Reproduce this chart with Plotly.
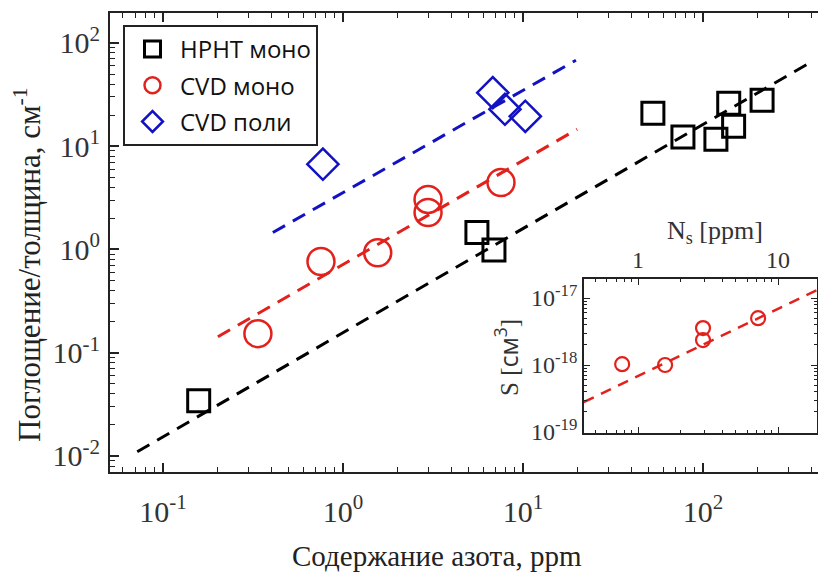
import plotly.graph_objects as go

# ---------------- data ----------------
hpht_x = [0.158, 5.55, 6.9, 52.7, 77.4, 118, 139, 148, 213]
hpht_y = [0.0343, 1.46, 0.99, 20.9, 12.3, 11.7, 26.1, 15.6, 27.9]

cvdm_x = [0.337, 0.755, 1.56, 2.97, 2.97, 7.55]
cvdm_y = [0.153, 0.765, 0.93, 3.05, 2.28, 4.45]

cvdp_x = [0.774, 6.8, 7.94, 10.3]
cvdp_y = [6.7, 33, 22.8, 19.5]

fit_hpht_x = [0.072, 390]
fit_hpht_y = [0.011, 64]
fit_cvdm_x = [0.202, 20]
fit_cvdm_y = [0.143, 14.6]
fit_cvdp_x = [0.408, 19.7]
fit_cvdp_y = [1.46, 68]

inset_ns = [0.77, 1.56, 2.91, 2.91, 7.2]
inset_s = [1.03e-18, 1.0e-18, 3.56e-18, 2.36e-18, 5.0e-18]
inset_fit_x = [0.41, 19.0]
inset_fit_y = [2.8e-19, 1.32e-17]

main_xticks = [0.1, 1, 10, 100, 1000]
main_xticktext = ["10<sup>-1</sup>", "10<sup>0</sup>", "10<sup>1</sup>", "10<sup>2</sup>", "10<sup>3</sup>"]
main_yticks = [0.01, 0.1, 1, 10, 100]
main_yticktext = ["10<sup>-2</sup>", "10<sup>-1</sup>", "10<sup>0</sup>", "10<sup>1</sup>", "10<sup>2</sup>"]
inset_xticks = [1, 10]
inset_xticktext = ["1", "10"]
inset_yticks = [1e-19, 1e-18, 1e-17]
inset_yticktext = ["10<sup>-19</sup>", "10<sup>-18</sup>", "10<sup>-17</sup>"]

labels = ["HPHT моно", "CVD моно", "CVD поли"]

# ---------------- styling ----------------
BLACK = "#000000"
RED = "#e2211c"
BLUE = "#1212c4"
AX = "#222222"
SERIF = "Liberation Serif, Times New Roman, serif"
SANS = "Open Sans, sans-serif"


def minor_vals(lo_exp, hi_exp):
    vals = []
    for e in range(lo_exp, hi_exp + 1):
        for m in range(2, 10):
            vals.append(m * 10.0 ** e)
    return vals


fig = go.Figure()

fig.add_trace(go.Scatter(x=hpht_x, y=hpht_y, mode="markers", name=labels[0], legendgroup="a",
                         marker=dict(symbol="square-open", size=22, color=BLACK, line=dict(width=3, color=BLACK))))
fig.add_trace(go.Scatter(x=cvdm_x, y=cvdm_y, mode="markers", name=labels[1], legendgroup="b",
                         marker=dict(symbol="circle-open", size=27, color=RED, line=dict(width=2.5, color=RED))))
fig.add_trace(go.Scatter(x=cvdp_x, y=cvdp_y, mode="markers", name=labels[2], legendgroup="c",
                         marker=dict(symbol="diamond-open", size=24, color=BLUE, line=dict(width=2.5, color=BLUE))))

for fx, fy, col in [(fit_hpht_x, fit_hpht_y, BLACK), (fit_cvdm_x, fit_cvdm_y, RED), (fit_cvdp_x, fit_cvdp_y, BLUE)]:
    fig.add_trace(go.Scatter(x=fx, y=fy, mode="lines", showlegend=False,
                             line=dict(color=col, width=3, dash="14px,9px")))

# inset
fig.add_trace(go.Scatter(x=inset_ns, y=inset_s, mode="markers", showlegend=False, xaxis="x2", yaxis="y2",
                         marker=dict(symbol="circle-open", size=14, color=RED, line=dict(width=2.2, color=RED))))
fig.add_trace(go.Scatter(x=inset_fit_x, y=inset_fit_y, mode="lines", showlegend=False, xaxis="x2", yaxis="y2",
                         line=dict(color=RED, width=2.5, dash="11px,8px")))

W, H = 818, 576
ML, MR, MT, MB = 110, 0, 13, 104
PW, PH = W - ML - MR, H - MT - MB


def px(xp):
    return (xp - ML) / PW


def py(yp):
    return (H - MB - yp) / PH


common = dict(showgrid=False, zeroline=False, showline=True, linecolor=AX, ticks="inside",
              tickcolor=AX)

fig.update_layout(
    width=W, height=H,
    margin=dict(l=ML, r=MR, t=MT, b=MB),
    paper_bgcolor="white", plot_bgcolor="white",
    showlegend=True,
    legend=dict(x=px(123), y=py(25), xanchor="left", yanchor="top",
                bordercolor=AX, borderwidth=2, bgcolor="white",
                font=dict(family=SANS, size=24, color="#111111"),
                itemsizing="trace", itemwidth=45, tracegroupgap=2),
    xaxis=dict(type="log", range=[-1.294, 2.639], domain=[0, 1], anchor="y",
               linewidth=2, mirror="ticks", ticklen=9, tickwidth=1.6,
               tickvals=main_xticks, ticktext=main_xticktext, ticklabelstandoff=12,
               tickfont=dict(family=SERIF, size=30, color="#333333"),
               minor=dict(tickvals=minor_vals(-2, 3), ticks="inside", ticklen=5, tickwidth=1.3,
                          tickcolor=AX, showgrid=False),
               **common),
    yaxis=dict(type="log", range=[-2.155, 2.29], domain=[0, 1], anchor="x",
               linewidth=2, mirror=False, ticklen=9, tickwidth=1.6,
               tickvals=main_yticks, ticktext=main_yticktext, ticklabelstandoff=2,
               tickfont=dict(family=SERIF, size=30, color="#333333"),
               minor=dict(tickvals=minor_vals(-3, 2), ticks="inside", ticklen=5, tickwidth=1.3,
                          tickcolor=AX, showgrid=False),
               **common),
    xaxis2=dict(type="log", range=[-0.386, 1.278], domain=[px(584), px(817)], anchor="y2", side="top",
                linewidth=1.6, mirror="ticks", ticklen=6, tickwidth=1.2,
                tickvals=inset_xticks, ticktext=inset_xticktext,
                tickfont=dict(family=SERIF, size=24, color="#333333"),
                minor=dict(tickvals=minor_vals(-1, 1), ticks="inside", ticklen=3, tickwidth=1,
                           tickcolor=AX, showgrid=False),
                **common),
    yaxis2=dict(type="log", range=[-19.015, -16.716], domain=[py(433), py(279)], anchor="x2",
                linewidth=1.6, mirror="ticks", ticklen=6, tickwidth=1.2,
                tickvals=inset_yticks, ticktext=inset_yticktext,
                tickfont=dict(family=SERIF, size=24, color="#333333"),
                minor=dict(tickvals=minor_vals(-20, -17), ticks="inside", ticklen=3, tickwidth=1,
                           tickcolor=AX, showgrid=False),
                **common),
    annotations=[
        dict(text="Содержание азота, ppm", xref="paper", yref="paper", x=px(437), y=py(556),
             xanchor="center", yanchor="middle", showarrow=False,
             font=dict(family=SERIF, size=29, color="#222222")),
        dict(text="Поглощение/толщина, см<sup>-1</sup>", xref="paper", yref="paper", x=px(27), y=py(265),
             xanchor="center", yanchor="middle", showarrow=False, textangle=-90,
             font=dict(family=SERIF, size=31, color="#222222")),
        dict(text="N<sub>s</sub> [ppm]", xref="paper", yref="paper", x=px(715), y=py(232),
             xanchor="center", yanchor="middle", showarrow=False,
             font=dict(family=SERIF, size=26, color="#333333")),
        dict(text="S [<span style='font-family:Open Sans'>см<sup>3</sup></span>]", xref="paper", yref="paper",
             x=px(506), y=py(357), xanchor="center", yanchor="middle", showarrow=False, textangle=-90,
             font=dict(family=SERIF, size=25, color="#333333")),
    ],
)

fig.write_html("out.html")
